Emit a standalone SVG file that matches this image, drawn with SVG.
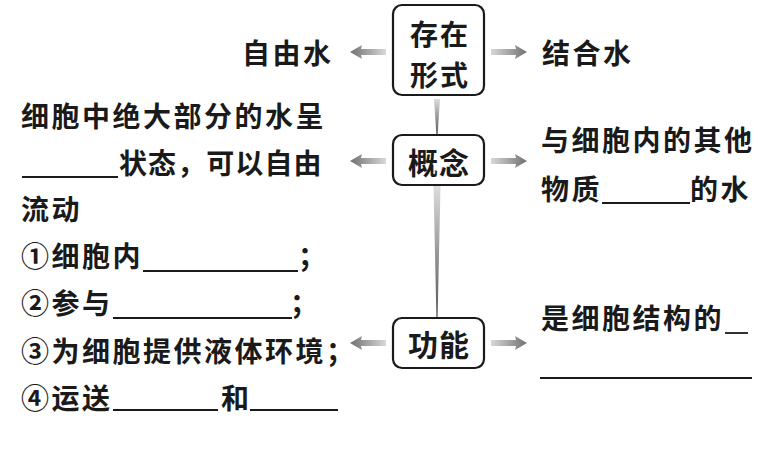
<svg xmlns="http://www.w3.org/2000/svg" width="764" height="454" viewBox="0 0 764 454">
<style>
text{font-family:"Noto Sans CJK SC","Noto Sans",sans-serif;font-size:28px;font-weight:bold;fill:#1a1a1a;dominant-baseline:central;letter-spacing:2.5px}
.bt{font-size:30px;letter-spacing:1px;text-anchor:middle}
.bt2{font-size:28px;letter-spacing:2px;text-anchor:middle}
.box{fill:#fff;stroke:#1a1a1a;stroke-width:2.2}
.ul{stroke:#1a1a1a;stroke-width:1.8}
</style>
<defs>
<linearGradient id="gl" x1="0" x2="1" y1="0" y2="0"><stop offset="0" stop-color="#707070"/><stop offset="1" stop-color="#d8d8d8"/></linearGradient>
<linearGradient id="gr" x1="0" x2="1" y1="0" y2="0"><stop offset="0" stop-color="#d8d8d8"/><stop offset="1" stop-color="#707070"/></linearGradient>
<linearGradient id="gv" x1="0" x2="0" y1="0" y2="1"><stop offset="0" stop-color="#ddd"/><stop offset="1" stop-color="#555"/></linearGradient>
<path id="al" d="M0 0 L12 -7 L11 -3 L36 -3 L36 3 L11 3 L12 7 Z"/>
<path id="ar" d="M0 0 L-12 -7 L-11 -3 L-36 -3 L-36 3 L-11 3 L-12 7 Z"/>
</defs>
<g id="connectors">
<use href="#al" x="350" y="52" fill="url(#gl)"/>
<use href="#ar" x="527" y="52" fill="url(#gr)"/>
<use href="#al" x="350" y="161" fill="url(#gl)"/>
<use href="#ar" x="527" y="161" fill="url(#gr)"/>
<use href="#al" x="350" y="343" fill="url(#gl)"/>
<use href="#ar" x="527" y="343" fill="url(#gr)"/>
<path d="M434 99 L440 99 L437.6 135 L436.4 135 Z" fill="url(#gv)"/>
<path d="M433.5 186 L440.5 186 L437.6 318 L436.4 318 Z" fill="url(#gv)"/>
</g>
<g id="node-cunzai">
<rect class="box" x="393" y="5" width="91" height="90" rx="9"/>
<text class="bt2" x="440" y="33">存在</text>
<text class="bt2" x="440" y="74">形式</text>
</g>
<g id="node-gainian">
<rect class="box" x="393" y="135" width="91" height="50" rx="9"/>
<text class="bt" x="439" y="161">概念</text>
</g>
<g id="node-gongneng">
<rect class="box" x="393" y="318" width="91" height="50" rx="9"/>
<text class="bt" x="439" y="343">功能</text>
</g>
<g id="node-ziyoushui">
<text x="242" y="52">自由水</text>
</g>
<g id="node-jiehe">
<text x="542" y="52" letter-spacing="4">结合水</text>
</g>
<g id="node-ziyou-concept">
<text x="21" y="115">细胞中绝大部分的水呈</text>
<line class="ul" x1="22" y1="177" x2="118" y2="177"/>
<text x="119" y="162" textLength="205">状态，可以自由</text>
<text x="21" y="208">流动</text>
</g>
<g id="node-ziyou-function">
<text x="21" y="255">①细胞内</text>
<line class="ul" x1="143" y1="271" x2="298" y2="271"/>
<text x="298" y="255">；</text>
<text x="21" y="302">②参与</text>
<line class="ul" x1="113" y1="318" x2="292" y2="318"/>
<text x="290" y="302">；</text>
<text x="21" y="350">③为细胞提供液体环境；</text>
<text x="21" y="397">④运送</text>
<line class="ul" x1="113" y1="410" x2="218" y2="410"/>
<text x="221" y="397">和</text>
<line class="ul" x1="250" y1="410" x2="338" y2="410"/>
</g>
<g id="node-jiehe-concept">
<text x="541" y="139">与细胞内的其他</text>
<text x="541" y="188">物质</text>
<line class="ul" x1="602" y1="203" x2="690" y2="203"/>
<text x="690" y="188">的水</text>
</g>
<g id="node-jiehe-function">
<text x="541" y="317">是细胞结构的</text>
<line class="ul" x1="725" y1="333" x2="748" y2="333"/>
<line class="ul" x1="540" y1="378" x2="752" y2="378"/>
</g>
</svg>
